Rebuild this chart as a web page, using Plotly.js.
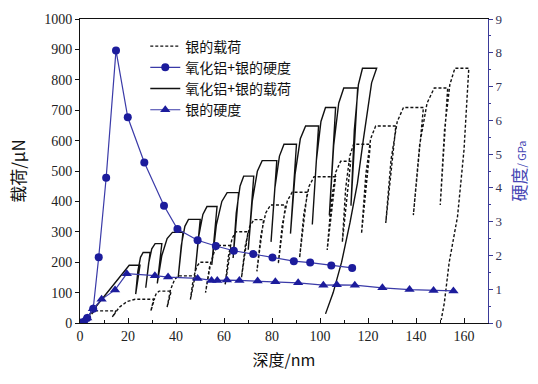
<!DOCTYPE html>
<html>
<head>
<meta charset="utf-8">
<script src="https://cdn.plot.ly/plotly-3.0.1.min.js"></script>
<style>html,body{margin:0;padding:0;background:#fff;}#chart{width:538px;height:384px;}</style>
</head>
<body>
<div id="chart"></div>
<script>
// Series names
var seriesNames = ["银的载荷", "氧化铝+银的硬度", "氧化铝+银的载荷", "银的硬度"];

// 银的载荷 (Ag load, μN) — depth (nm) / load path
var agLoadDepth = [0,1.5,3,4.5,6,15,13.5,16.4,19.7,23,31,29.5,30.6,31.8,33,38,36.3,37.7,39.4,41,48,46,47.2,48.6,50,54.5,52.3,54,56,58,63,60.5,61.9,63.4,65,70,67.3,68.9,70.7,72.5,76.5,73.7,75.4,77.4,79.4,85.6,82.6,84.3,86.4,88.4,94.7,91.5,93.3,95.4,97.5,106.5,103,104.7,106.6,108.6,112.8,109.3,110.7,112.4,114,121,117.3,119.1,121.1,123.2,131.6,127.4,129.6,132.2,134.8,143.1,138.9,141.5,144.6,147.6,153.2,150.1,151.9,154.1,156.2,162,161,160,157.3,153.8,151.8,150.5];
var agLoadValue = [0,4,12,25,40,40,20,52,71,78,78,39,75,97,105,105,52,109,143,155,155,77,145,185,200,200,100,185,236,255,255,127,222,279,300,300,150,255,317,340,340,170,290,362,388,388,194,324,402,430,430,215,361,449,481,481,240,401,497,532,532,266,443,549,588,588,294,489,606,648,648,329,538,663,709,709,355,585,723,773,773,388,636,784,838,838,700,569,350,198,66,10];

// 氧化铝+银的载荷 (Al2O3+Ag load, μN)
var alLoadDepth = [0,1.5,3,5,7,9,11,13,15,17,19,20.5,25,23.2,24.1,25.2,26.3,29.2,27.4,28.6,29.9,31.3,34.1,32.2,34.1,36.3,38.5,42.9,40.9,42.2,43.7,45.2,50.1,48,49.5,51.2,52.9,57.1,54.9,56.8,59.1,61.3,66.1,63.8,65.1,66.7,68.2,72.4,70.1,71.8,73.9,75.9,82,79.6,81.2,83.1,85,90.2,87.7,89.6,91.8,94,99.4,96.8,98.5,100.4,102.3,106.5,103.9,105.7,107.8,109.9,115.7,112.9,114.3,116,117.7,123.6,121.5,119.8,118,115.6,112.5,109,105.5,102.3];
var alLoadValue = [0,5,18,38,58,78,98,118,138,158,176,190,190,95,170,216,232,232,116,196,244,261,261,130,222,278,298,298,149,255,318,341,341,170,287,357,383,383,191,322,400,429,429,214,362,451,483,483,241,402,499,534,534,267,444,549,588,588,294,489,606,648,648,324,536,663,709,709,354,584,723,773,773,386,635,784,838,838,790,700,600,460,330,200,100,30];

// 氧化铝+银的硬度 (Al2O3+Ag hardness, GPa)
var alHardDepth = [1,3,5.5,7.8,10.9,15,19.9,26.8,35,40.6,49,56.6,64.1,72.2,80.2,89.1,95.9,104.7,113.4];
var alHardValue = [0.02,0.15,0.42,1.95,4.3,8.07,6.09,4.75,3.47,2.78,2.45,2.28,2.14,2.04,1.94,1.83,1.79,1.70,1.63];

// 银的硬度 (Ag hardness, GPa)
var agHardDepth = [1.5,3,5.4,9,14.6,19.5,31.2,36.7,49,54.8,57.2,61.2,66.4,74,81.4,90.9,101.4,107,114.5,126,137.3,147.3,155.6];
var agHardValue = [0.05,0.15,0.42,0.7,0.98,1.46,1.40,1.36,1.32,1.26,1.26,1.27,1.26,1.24,1.22,1.19,1.12,1.13,1.12,1.04,0.99,0.96,0.95];

var blue = "#1c1c9c";
var cjk = "Noto Sans CJK SC";
var serif = "Liberation Serif";

var traces = [
  {x: agLoadDepth, y: agLoadValue, name: seriesNames[0], type: "scatter", mode: "lines",
   line: {color: "#111", width: 1.4, dash: "3px,2px"}, yaxis: "y", legendrank: 1},
  {x: alLoadDepth, y: alLoadValue, name: seriesNames[2], type: "scatter", mode: "lines",
   line: {color: "#111", width: 1.4}, yaxis: "y", legendrank: 3},
  {x: alHardDepth, y: alHardValue, name: seriesNames[1], type: "scatter", mode: "lines+markers",
   line: {color: "#3a3aa8", width: 1.2}, marker: {symbol: "circle", size: 8, color: blue},
   yaxis: "y2", legendrank: 2},
  {x: agHardDepth, y: agHardValue, name: seriesNames[3], type: "scatter", mode: "lines+markers",
   line: {color: "#3a3aa8", width: 1.2}, marker: {symbol: "triangle-up", size: 9, color: blue},
   yaxis: "y2", legendrank: 4}
];

var layout = {
  width: 538, height: 384,
  margin: {l: 80, r: 50, t: 19, b: 61},
  paper_bgcolor: "#fff", plot_bgcolor: "#fff",
  font: {family: serif, size: 14, color: "#222"},
  showlegend: true,
  legend: {x: 0.16, y: 0.962, xanchor: "left", yanchor: "top", bgcolor: "rgba(0,0,0,0)",
           font: {family: cjk, size: 14, color: "#111"}, tracegroupgap: 0},
  xaxis: {range: [0, 170], tick0: 0, dtick: 20, showgrid: false, zeroline: false,
          showline: true, linecolor: "#111", linewidth: 1, mirror: true,
          ticks: "inside", ticklen: 5, tickcolor: "#111",
          minor: {dtick: 10, ticks: "inside", ticklen: 3, tickcolor: "#111"},
          tickfont: {family: serif, size: 14, color: "#222"},
          title: {text: "深度/nm", font: {family: cjk, size: 16, color: "#111"}, standoff: 12}},
  yaxis: {range: [0, 1000], tick0: 0, dtick: 100, showgrid: false, zeroline: false,
          showline: true, linecolor: "#111", linewidth: 1,
          ticks: "outside", ticklen: 4, tickcolor: "#111",
          tickfont: {family: serif, size: 14, color: "#222"},
          title: {text: "载荷/μN", font: {family: cjk, size: 17, color: "#111"}, standoff: 14}},
  yaxis2: {range: [0, 9], tick0: 0, dtick: 1, overlaying: "y", side: "right",
           showgrid: false, zeroline: false, showline: true, linecolor: "#3a3a98", linewidth: 1,
           ticks: "outside", ticklen: 4, tickcolor: "#3a3a98",
           minor: {dtick: 0.5, ticks: "outside", ticklen: 2, tickcolor: "#3a3a98"},
           tickfont: {family: serif, size: 13, color: "#333355"},
           title: {text: "硬度<span style='font-size:11px'>/ GPa</span>", font: {family: cjk, size: 17, color: "#4646b4"}, standoff: 12}}
};

Plotly.newPlot("chart", traces, layout, {displayModeBar: false, staticPlot: true});
</script>
</body>
</html>
